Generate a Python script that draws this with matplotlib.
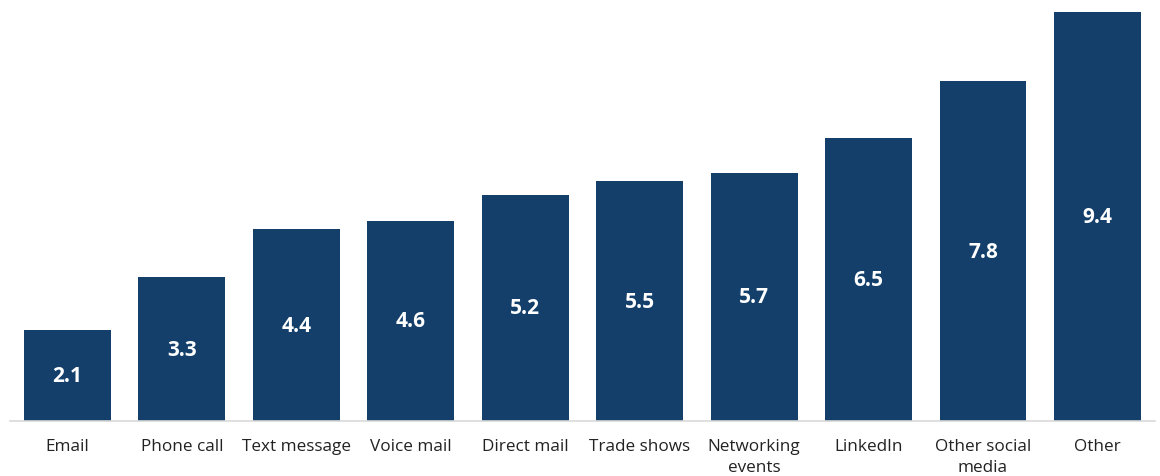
import matplotlib.pyplot as plt
import numpy as np

plt.rcParams['font.family'] = ['Open Sans', 'DejaVu Sans']

channels = ['Email', 'Phone call', 'Text message', 'Voice mail', 'Direct mail',
            'Trade shows', 'Networking\nevents', 'LinkedIn', 'Other social\nmedia', 'Other']
scores = [2.1, 3.3, 4.4, 4.6, 5.2, 5.5, 5.7, 6.5, 7.8, 9.4]

bar_color = '#133F6A'

fig = plt.figure(figsize=(11.6, 4.77), dpi=100)
ax = fig.add_axes([0.0088, 0.1150, 0.9866, 0.8770])

x = np.arange(len(channels))
bars = ax.bar(x, scores, width=0.76, color=bar_color, zorder=2)

# value labels centred inside each bar
for rect, val in zip(bars, scores):
    ax.text(rect.get_x() + rect.get_width() / 2, val / 2, f'{val:.1f}',
            ha='center', va='center', color='white', fontsize=15, fontweight='bold')

ax.set_xlim(-0.5, len(channels) - 0.5)
ax.set_ylim(0, 9.6)
ax.set_xticks(x)
ax.set_xticklabels(channels, fontsize=12.3, color='#222222', linespacing=1.4)
ax.tick_params(axis='x', length=0, pad=12)
ax.set_yticks([])

for side in ['top', 'right', 'left']:
    ax.spines[side].set_visible(False)
ax.spines['bottom'].set_color('#d9d9d9')
ax.spines['bottom'].set_linewidth(1.2)

fig.savefig('out.png', dpi=100)
